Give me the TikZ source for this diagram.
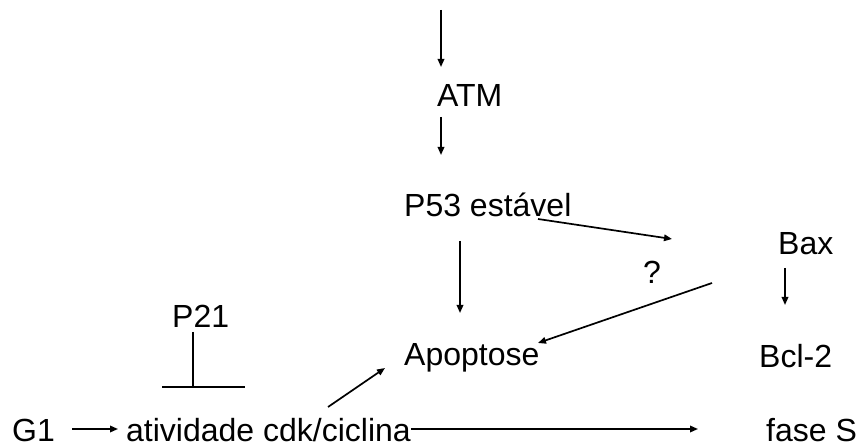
\documentclass[tikz,border=0pt]{standalone}
\usepackage{fontspec}
\setmainfont{Liberation Sans}
\usetikzlibrary{arrows.meta}
\begin{document}
\begin{tikzpicture}[x=1pt,y=-1pt,
  lbl/.style={anchor=base west, inner sep=0pt, font=\fontsize{32}{38}\selectfont},
  conn/.style={line width=1.7pt},
  arr/.style={conn,-{Triangle[length=8pt,width=6.5pt]}}]
\useasboundingbox (0,0) rectangle (857,446);
% nodes
\node[lbl] (atm) at (437,107) {ATM};
\node[lbl] (p53) at (404,217) {P53 estável};
\node[lbl] (bax) at (778,255) {Bax};
\node[lbl] (q) at (643,284) {?};
\node[lbl] (p21) at (172,328) {P21};
\node[lbl] (apo) at (404,366) {Apoptose};
\node[lbl] (bcl) at (759,367) {Bcl-2};
\node[lbl] (g1) at (12,441) {G1};
\node[lbl] (cdk) at (126,441) {atividade cdk/ciclina};
\node[lbl] (fase) at (766,441) {fase S};
% connector ends
\coordinate (topin) at (441,10);
\coordinate (atmin) at (441,67);
\coordinate (atmout) at (441,117);
\coordinate (p53in) at (441,155);
\coordinate (p53out) at (538,219);
\coordinate (baxin) at (672,239);
\coordinate (p53down) at (460,241);
\coordinate (apotop) at (460,313);
\coordinate (baxleft) at (712,283);
\coordinate (aporight) at (538,343);
\coordinate (baxout) at (785,268);
\coordinate (bclin) at (785,305);
\coordinate (p21out) at (193,332);
\coordinate (bar) at (193,387);
\coordinate (barL) at (162,387);
\coordinate (barR) at (245,387);
\coordinate (cdkup) at (328,407);
\coordinate (apobl) at (385,368);
\coordinate (g1out) at (72,429);
\coordinate (cdkin) at (118,429);
\coordinate (fasein) at (698,429);
% connectors
\draw[arr] (topin) -- (atmin);
\draw[arr] (atmout) -- (p53in);
\draw[arr] (p53out) -- (baxin);
\draw[arr] (p53down) -- (apotop);
\draw[arr] (baxleft) -- (aporight);
\draw[arr] (baxout) -- (bclin);
\draw[conn] (p21out) -- (bar);
\draw[conn] (barL) -- (barR);
\draw[arr] (cdkup) -- (apobl);
\draw[arr] (g1out) -- (cdkin);
\draw[arr] (cdk.east |- fasein) -- (fasein);
\end{tikzpicture}
\end{document}
